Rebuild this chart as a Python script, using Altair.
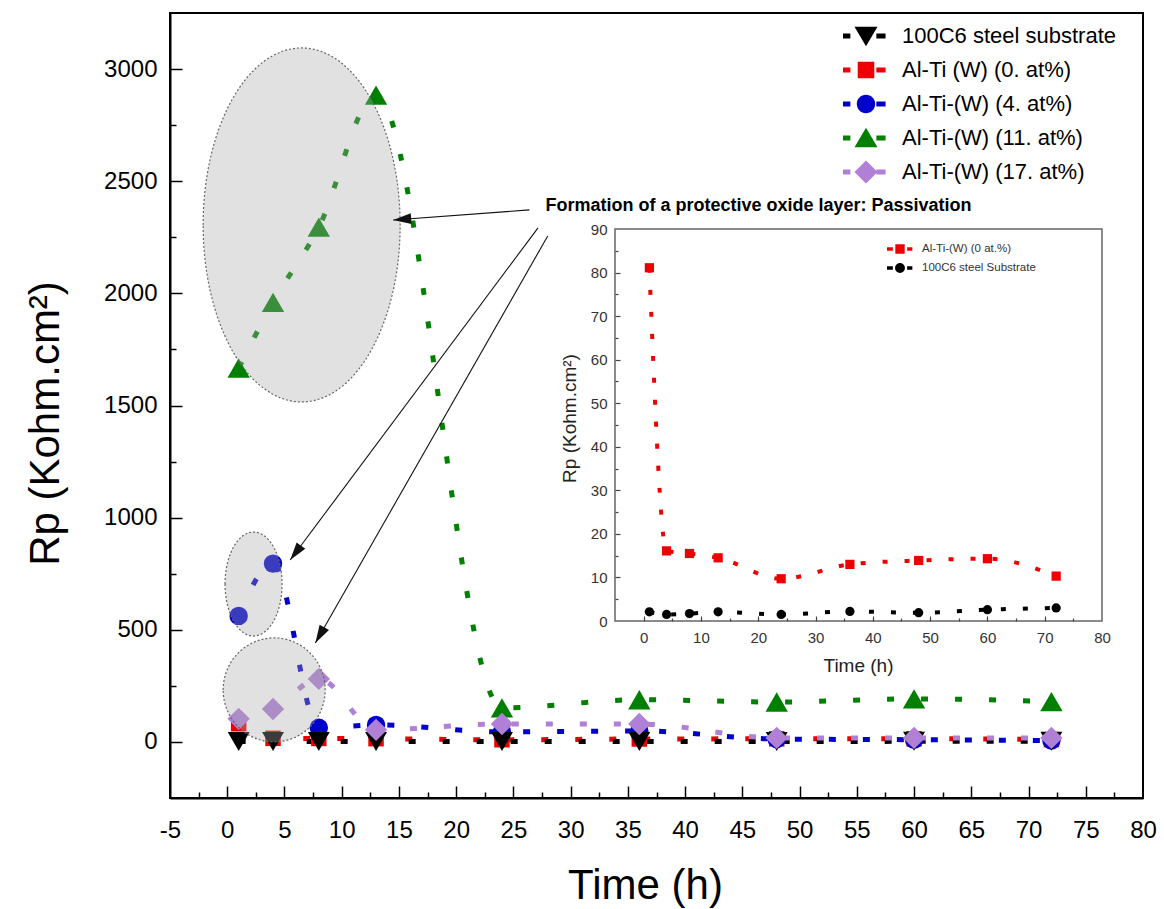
import math
import altair as alt
import pandas as pd

FONT = "Liberation Sans"

# ---------------- data ----------------
time_h = [1, 4, 8, 13, 24, 36, 48, 60, 72]
rp_steel = [2.1, 1.5, 1.7, 2.1, 1.5, 2.2, 1.9, 2.6, 3.0]
rp_w0 = [81.1, 16.1, 15.5, 14.5, 9.7, 13.0, 13.9, 14.3, 10.3]
rp_w4 = [562, 795, 63, 76, 45, 49, 13, 10, 6]
rp_w11 = [1667, 1960, 2295, 2884, 152, 188, 178, 192, 180]
rp_w17 = [103, 147, 281, 54, 80, 80, 18, 18, 18]

series_labels = ["100C6 steel substrate", "Al-Ti (W) (0. at%)", "Al-Ti-(W) (4. at%)",
                 " Al-Ti-(W) (11. at%)", " Al-Ti-(W) (17. at%)"]
series_values = [rp_steel, rp_w0, rp_w4, rp_w11, rp_w17]
series_colors = ["#000000", "#ee0000", "#0000cc", "#008000", "#b07fd6"]
series_shapes = ["triangle-down", "square", "circle", "triangle-up", "diamond"]
series_sizes = [480, 240, 340, 500, 500]
draw_order = [1, 2, 0, 3, 4]

inset_labels = ["Al-Ti-(W) (0 at.%)", "100C6 steel Substrate"]
inset_values = [rp_w0, rp_steel]
inset_colors = ["#ee0000", "#000000"]
inset_shapes = ["square", "circle"]
inset_sizes = [85, 85]

ann_text = "Formation of a protective oxide layer: Passivation"
ann_time, ann_rp = 27.8, 2390
arrow_from_time = [26.4, 27.15, 28.0]
arrow_from_rp = [2372, 2292, 2256]
arrow_to_time = [14.5, 5.5, 7.7]
arrow_to_rp = [2327, 811, 441]

ell_time = [6.5, 2.3, 4.1]
ell_rp = [2305, 704, 232]
ell_half_w = [98.5, 28.5, 51]
ell_half_h = [177, 52, 52]

x_labels = list(range(-5, 81, 5))
x_major = list(range(0, 76, 5))
x_minor = [v + 2.5 for v in range(-5, 80, 5)]
y_labels = list(range(0, 3001, 500))
y_minor = list(range(250, 3000, 500))

ix_labels = list(range(0, 81, 10))
ix_major = list(range(0, 71, 10))
ix_minor = list(range(5, 76, 10))
iy_labels = list(range(0, 91, 10))
iy_major = list(range(10, 81, 10))
iy_minor = list(range(5, 86, 10))

# ---------------- layout ----------------
W, H = 973, 785
X_DOM = [-5, 80]
Y_DOM = [-250, 3250]
IX_DOM = [-5, 80]
IY_DOM = [0, 90]
IX_RANGE = [445, 932]
IY_RANGE = [608, 216]

xs = alt.Scale(domain=X_DOM, nice=False, zero=False)
ys = alt.Scale(domain=Y_DOM, nice=False, zero=False)
ixs = alt.Scale(domain=IX_DOM, range=IX_RANGE, nice=False, zero=False)
iys = alt.Scale(domain=IY_DOM, range=IY_RANGE, nice=False, zero=False)

PLAIN = "'' + datum.value"

# ---------------- axes ----------------
ax_x_main = alt.Axis(orient="bottom", values=x_labels, labelExpr=PLAIN,
                     ticks=False, tickSize=0, domainColor="black", domainWidth=2,
                     labelFont=FONT, labelFontSize=24, labelColor="black", labelPadding=20,
                     labelFlush=False, labelOverlap=False, grid=False,
                     title="Time (h)", titleFont=FONT, titleFontSize=42, titleFontWeight="normal",
                     titleColor="black", titleX=475, titleY=87, titleAlign="center",
                     titleBaseline="middle")
ax_y_main = alt.Axis(orient="left", values=y_labels, labelExpr=PLAIN, ticks=False, tickSize=0,
                     domainColor="black", domainWidth=2, labelFont=FONT, labelFontSize=24,
                     labelColor="black", labelPadding=13, labelFlush=False, labelOverlap=False,
                     grid=False, title="Rp (Kohm.cm²)", titleFont=FONT, titleFontSize=42,
                     titleFontWeight="normal", titleColor="black", titleX=-125, titleY=410,
                     titleAngle=270, titleAlign="center", titleBaseline="middle")


def tick_axis(orient, offset, values, size, width=1.5, color="black", z=0):
    return alt.Axis(orient=orient, offset=offset, values=values, labels=False, domain=False,
                    ticks=True, tickSize=size, tickWidth=width, tickColor=color, grid=False,
                    title=None, zindex=z)


ax_x_major = tick_axis("top", -H, x_major, 12)
ax_x_minor = tick_axis("top", -H, x_minor, 6)
ax_y_major = tick_axis("right", -W, y_labels, 12)
ax_y_minor = tick_axis("right", -W, y_minor, 6)

ax_ix = alt.Axis(orient="bottom", offset=IY_RANGE[0] - H, values=ix_labels, labelExpr=PLAIN,
                 ticks=False, tickSize=0, domain=False, labelFont=FONT, labelFontSize=15,
                 labelColor="#333333", labelPadding=9, labelFlush=False, labelOverlap=False,
                 grid=False, title="Time (h)", titleFont=FONT, titleFontSize=19,
                 titleFontWeight="normal", titleColor="#222222", titleX=688, titleY=44,
                 titleAlign="center", titleBaseline="middle", zindex=1)
ax_iy = alt.Axis(orient="left", offset=-IX_RANGE[0], values=iy_labels, labelExpr=PLAIN,
                 ticks=False, tickSize=0, domain=False, labelFont=FONT, labelFontSize=15,
                 labelColor="#333333", labelPadding=8, labelFlush=False, labelOverlap=False,
                 grid=False, title="Rp (Kohm.cm²)", titleFont=FONT, titleFontSize=19,
                 titleFontWeight="normal", titleColor="#222222", titleX=-46, titleY=405,
                 titleAngle=270, titleAlign="center", titleBaseline="middle", zindex=1)
ax_ix_major = tick_axis("top", -IY_RANGE[0], ix_major, 5, 1.2, "#444444", 1)
ax_ix_minor = tick_axis("top", -IY_RANGE[0], ix_minor, 3, 1.2, "#444444", 1)
ax_iy_major = tick_axis("right", -(W - IX_RANGE[0]), iy_major, 5, 1.2, "#444444", 1)
ax_iy_minor = tick_axis("right", -(W - IX_RANGE[0]), iy_minor, 3, 1.2, "#444444", 1)


# ---------------- symbol paths for legends / annotations ----------------
def rect(x0, x1, h):
    return f"M{x0},{-h} L{x1},{-h} L{x1},{h} L{x0},{h} Z"


def circ(r):
    return f"M{-r},0 A{r},{r} 0 1,1 {r},0 A{r},{r} 0 1,1 {-r},0 Z"


def ellipse(a):
    return f"M{-a},0 A{a},1 0 1,1 {a},0 A{a},1 0 1,1 {-a},0 Z"


main_core = {
    "triangle-down": "M-0.5,-0.4 L0.5,-0.4 L0,0.45 Z",
    "square": rect(-0.36, 0.36, 0.36),
    "circle": circ(0.4),
    "triangle-up": "M0,-0.45 L0.5,0.4 L-0.5,0.4 Z",
    "diamond": "M0,-0.5 L0.5,0 L0,0.5 L-0.5,0 Z",
}
legend_paths = [rect(-1.0, -0.68, 0.11) + " " + main_core[s] + " " + rect(0.45, 0.85, 0.11)
                for s in series_shapes]
inset_core = {"square": rect(-0.36, 0.36, 0.36), "circle": circ(0.38)}
inset_paths = [rect(-1.0, -0.55, 0.13) + " " + inset_core[s] + " " + rect(0.55, 0.95, 0.13)
               for s in inset_shapes]

main_legend = alt.Legend(orient="none", legendX=673, legendY=0, title=None, labelFont=FONT,
                         labelFontSize=22, labelColor="black", labelOffset=13, labelLimit=0,
                         symbolSize=2116, symbolStrokeWidth=0, symbolOpacity=1, rowPadding=-2.6,
                         padding=0)
inset_legend = alt.Legend(orient="none", legendX=717, legendY=223, title=None, labelFont=FONT,
                          labelFontSize=11.5, labelColor="#333333", labelOffset=9, labelLimit=0,
                          symbolSize=676, symbolStrokeWidth=0, symbolOpacity=1, rowPadding=-4,
                          padding=0)

# ---------------- data frames ----------------
df_main = pd.DataFrame([{"series": lab, "time": t, "rp": v}
                        for lab, vals in zip(series_labels, series_values)
                        for t, v in zip(time_h, vals)])
df_inset = pd.DataFrame([{"series": lab, "time": t, "rp": v}
                         for lab, vals in zip(inset_labels, inset_values)
                         for t, v in zip(time_h, vals)])
df_ell = pd.DataFrame({"time": ell_time, "rp": ell_rp, "k": list(range(len(ell_time)))})
df_arrow = pd.DataFrame({"t0": arrow_from_time, "r0": arrow_from_rp,
                         "t1": arrow_to_time, "r1": arrow_to_rp,
                         "k": list(range(len(arrow_to_time)))})
df_ann = pd.DataFrame({"time": [ann_time], "rp": [ann_rp], "txt": [ann_text]})
df_frame = pd.DataFrame({"x0": [IX_DOM[0]], "x1": [IX_DOM[1]], "y0": [IY_DOM[0]], "y1": [IY_DOM[1]]})

# ---------------- main layers ----------------
main_layers = []
for n, i in enumerate(draw_order):
    lab = series_labels[i]
    main_layers.append(
        alt.Chart(df_main).transform_filter(alt.datum.series == lab)
        .mark_line(color=series_colors[i], strokeWidth=5, strokeDash=[7, 27], interpolate="monotone")
        .encode(x=alt.X("time:Q", scale=xs, axis=ax_x_main if n == 0 else (ax_x_major if n == 1 else None)),
                y=alt.Y("rp:Q", scale=ys, axis=ax_y_main if n == 0 else (ax_y_major if n == 1 else None)))
    )
for i in draw_order:
    lab = series_labels[i]
    main_layers.append(
        alt.Chart(df_main).transform_filter(alt.datum.series == lab)
        .mark_point(filled=True, opacity=1, shape=series_shapes[i], size=series_sizes[i],
                    color=series_colors[i], strokeWidth=0)
        .encode(x=alt.X("time:Q", scale=xs, axis=None), y=alt.Y("rp:Q", scale=ys, axis=None))
    )
# legend-only layer (no visible marks)
main_layers.append(
    alt.Chart(df_main).transform_filter("false")
    .mark_point(filled=True, opacity=1, strokeWidth=0)
    .encode(x=alt.X("time:Q", scale=xs, axis=ax_x_minor),
            y=alt.Y("rp:Q", scale=ys, axis=ax_y_minor),
            color=alt.Color("series:N", scale=alt.Scale(domain=series_labels, range=series_colors),
                            legend=main_legend),
            shape=alt.Shape("series:N", scale=alt.Scale(domain=series_labels, range=legend_paths),
                            legend=main_legend))
)
# shaded ellipses
for k in range(len(ell_time)):
    a = ell_half_w[k] / ell_half_h[k]
    main_layers.append(
        alt.Chart(df_ell).transform_filter(alt.datum.k == k)
        .mark_point(shape=ellipse(a), size=(2 * ell_half_h[k]) ** 2, filled=True, fill="#a8a8a8",
                    fillOpacity=0.35, opacity=1, stroke="#666666", strokeWidth=1.2,
                    strokeDash=[2, 2])
        .encode(x=alt.X("time:Q", scale=xs, axis=None), y=alt.Y("rp:Q", scale=ys, axis=None))
    )
# arrows
main_layers.append(
    alt.Chart(df_arrow).mark_rule(color="#111111", strokeWidth=1.1)
    .encode(x=alt.X("t0:Q", scale=xs, axis=None), y=alt.Y("r0:Q", scale=ys, axis=None),
            x2="t1:Q", y2="r1:Q")
)
sx = W / (X_DOM[1] - X_DOM[0])
sy = H / (Y_DOM[1] - Y_DOM[0])
for k in range(len(arrow_to_time)):
    dx = (arrow_to_time[k] - arrow_from_time[k]) * sx
    dy = -(arrow_to_rp[k] - arrow_from_rp[k]) * sy
    ang = math.degrees(math.atan2(dx, -dy)) % 360
    main_layers.append(
        alt.Chart(df_arrow).transform_filter(alt.datum.k == k)
        .mark_point(shape="M0,0 L0.3,1 L-0.3,1 Z", size=1296, angle=ang, filled=True,
                    color="#111111", opacity=1, strokeWidth=0)
        .encode(x=alt.X("t1:Q", scale=xs, axis=None), y=alt.Y("r1:Q", scale=ys, axis=None))
    )
main_layers.append(
    alt.Chart(df_ann).mark_text(align="left", baseline="middle", font=FONT, fontSize=18,
                                fontWeight="bold", color="black")
    .encode(x=alt.X("time:Q", scale=xs, axis=None), y=alt.Y("rp:Q", scale=ys, axis=None),
            text="txt:N")
)
main = alt.layer(*main_layers).resolve_axis(x="independent", y="independent")

# ---------------- inset layers ----------------
inset_layers = [
    alt.Chart(df_frame).mark_rect(fill="white", stroke="#666666", strokeWidth=1.5)
    .encode(x=alt.X("x0:Q", scale=ixs, axis=ax_ix), x2="x1:Q",
            y=alt.Y("y0:Q", scale=iys, axis=ax_iy), y2="y1:Q")
]
for n, lab in enumerate(inset_labels):
    inset_layers.append(
        alt.Chart(df_inset).transform_filter(alt.datum.series == lab)
        .mark_line(color=inset_colors[n], strokeWidth=4, strokeDash=[5, 17], interpolate="monotone")
        .encode(x=alt.X("time:Q", scale=ixs, axis=ax_ix_major if n == 0 else ax_ix_minor),
                y=alt.Y("rp:Q", scale=iys, axis=ax_iy_major if n == 0 else ax_iy_minor))
    )
for n, lab in enumerate(inset_labels):
    inset_layers.append(
        alt.Chart(df_inset).transform_filter(alt.datum.series == lab)
        .mark_point(filled=True, opacity=1, shape=inset_shapes[n], size=inset_sizes[n],
                    color=inset_colors[n], strokeWidth=0)
        .encode(x=alt.X("time:Q", scale=ixs, axis=None), y=alt.Y("rp:Q", scale=iys, axis=None))
    )
inset_layers.append(
    alt.Chart(df_inset).transform_filter("false")
    .mark_point(filled=True, opacity=1, strokeWidth=0)
    .encode(x=alt.X("time:Q", scale=ixs, axis=None), y=alt.Y("rp:Q", scale=iys, axis=None),
            color=alt.Color("series:N", scale=alt.Scale(domain=inset_labels, range=inset_colors),
                            legend=inset_legend),
            shape=alt.Shape("series:N", scale=alt.Scale(domain=inset_labels, range=inset_paths),
                            legend=inset_legend))
)
inset = alt.layer(*inset_layers).resolve_axis(x="independent", y="independent")

chart = (
    alt.layer(main, inset)
    .resolve_scale(x="independent", y="independent", color="independent", shape="independent")
    .properties(width=W, height=H, autosize=alt.AutoSizeParams(type="none"),
                padding={"left": 170, "top": 13, "right": 21, "bottom": 111},
                background="white")
    .configure_view(stroke="black", strokeWidth=2)
)

chart.save("out.html", embed_options={"renderer": "svg", "actions": False})
